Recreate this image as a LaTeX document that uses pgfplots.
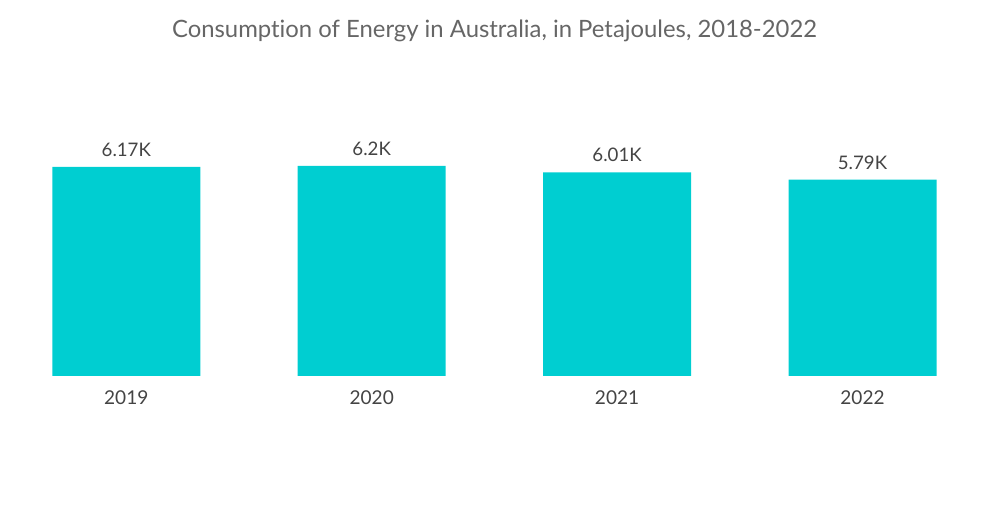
\documentclass[border=0pt]{standalone}
\usepackage{pgfplots}
\pgfplotsset{compat=1.18}
\usepackage{fontspec}
\setmainfont{Lato}[Ligatures=NoCommon]
\definecolor{barc}{HTML}{00CED1}
\definecolor{titc}{HTML}{666666}
\definecolor{labc}{HTML}{444444}
\begin{document}
\begin{tikzpicture}
\path[use as bounding box] (0pt,0pt) rectangle (750pt,378pt);
\node[text=titc,font=\fontsize{17.9}{21}\selectfont] at (370.9pt,355pt) {Consumption of Energy in Australia, in Petajoules, 2018-2022};
\begin{axis}[
  at={(2.7pt,96pt)}, anchor=south west,
  scale only axis,
  width=736.2pt, height=237pt,
  xmin=-0.5, xmax=3.5, ymin=0, ymax=9321.5,
  axis line style={draw=none},
  ybar, bar width=111pt,
  xtick=data, xticklabels={2019,2020,2021,2022},
  ytick=\empty,
  xtick style={draw=none},
  xticklabel style={text=labc,font=\fontsize{14.3}{16}\selectfont, yshift=-3pt},
  point meta=explicit symbolic,
  nodes near coords,
  nodes near coords style={text=labc,font=\fontsize{14}{16}\selectfont, yshift=4.2pt},
  clip=false,
]
\addplot[fill=barc, draw=none] coordinates {(0,6170)[6.17K] (1,6200)[6.2K] (2,6010)[6.01K] (3,5790)[5.79K]};
\end{axis}
\end{tikzpicture}
\end{document}
